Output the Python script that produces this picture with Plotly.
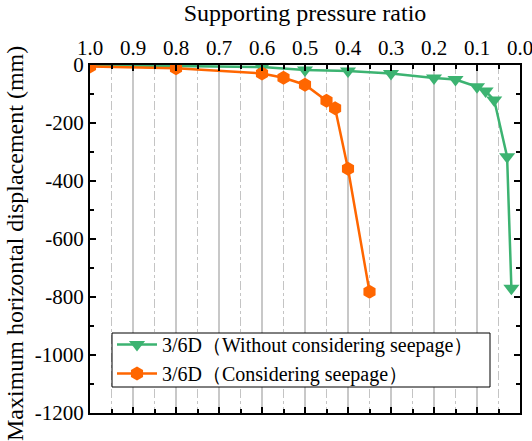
import plotly.graph_objects as go

# Supporting pressure ratio vs. maximum horizontal displacement (mm)
ratio_dry = [1.0, 0.8, 0.6, 0.5, 0.4, 0.3, 0.2, 0.15, 0.1, 0.08, 0.06, 0.03, 0.02]
disp_dry = [0, -3, -7, -17, -21, -29, -45, -50, -75, -90, -121, -316, -770]

ratio_seep = [1.0, 0.8, 0.6, 0.55, 0.5, 0.45, 0.43, 0.4, 0.35]
disp_seep = [-5, -11, -29, -44, -68, -123, -149, -358, -782]

name_dry = "3/6D（Without considering seepage）"
name_seep = "3/6D（Considering seepage）"
y_title = "Maximum horizontal displacement (mm)"

x_ticks = [round(0.1 * i, 1) for i in range(11)]
y_ticks = list(range(-1200, 1, 200))
y_labels = [str(v) for v in y_ticks]

GREEN = "#3cb371"
ORANGE = "#ff6600"
FONT = "'Times New Roman', 'Liberation Serif', 'DejaVu Serif', serif"

# plot area in pixels: x 90..520, y 65..413
W, H = 532, 441
L, R, T, B = 90, 12, 65, 28
PW, PH = W - L - R, H - T - B


def px_x(x):
    return (x - L) / PW


def px_y(y):
    return (H - B - y) / PH


fig = go.Figure()
fig.add_trace(go.Scatter(
    x=ratio_dry, y=disp_dry, name=name_dry, mode="lines+markers",
    line=dict(color=GREEN, width=2.5),
    marker=dict(symbol="triangle-down", size=14, color=GREEN),
))
fig.add_trace(go.Scatter(
    x=ratio_seep, y=disp_seep, name=name_seep, mode="lines+markers",
    line=dict(color=ORANGE, width=2.5),
    marker=dict(symbol="hexagon", size=14, color=ORANGE),
))

# legend frame drawn as a shape so the entries can sit tightly inside it
fig.add_shape(
    type="rect", xref="paper", yref="paper", layer="above",
    x0=px_x(112), x1=px_x(490), y0=px_y(387), y1=px_y(333),
    fillcolor="white", line=dict(color="black", width=1),
)

fig.add_annotation(
    text=y_title, xref="paper", yref="paper",
    x=px_x(15), y=px_y(244), xanchor="center", yanchor="middle",
    textangle=-90, showarrow=False, font=dict(family=FONT, size=24),
)

fig.update_layout(
    width=W, height=H,
    margin=dict(l=L, r=R, t=T, b=B),
    paper_bgcolor="white", plot_bgcolor="white",
    font=dict(family=FONT, size=21, color="black"),
    showlegend=True,
    legend=dict(
        x=px_x(112), y=px_y(325), xanchor="left", yanchor="top",
        bgcolor="rgba(0,0,0,0)", borderwidth=0,
        font=dict(family=FONT, size=20), tracegroupgap=0, itemwidth=40,
    ),
)

fig.update_xaxes(
    side="top", range=[1.0, 0.0], tickvals=x_ticks, tickformat=".1f",
    ticklabeloverflow="allow",
    tickfont=dict(family=FONT, size=21),
    title=dict(text="Supporting pressure ratio", font=dict(family=FONT, size=24), standoff=8),
    showline=True, linecolor="black", linewidth=2, mirror="allticks",
    ticks="inside", ticklen=6, tickwidth=2, tickcolor="black",
    showgrid=True, gridcolor="#c8c8c8", gridwidth=1.5,
    zeroline=False, automargin=False,
    minor=dict(dtick=0.05, ticks="inside", ticklen=4, tickwidth=1.5,
               tickcolor="black", showgrid=True, gridcolor="#c4c4c4",
               griddash="dashdot", gridwidth=1),
)
fig.update_yaxes(
    range=[-1200, 0], tickvals=y_ticks, ticktext=y_labels,
    tickfont=dict(family=FONT, size=21),
    showline=True, linecolor="black", linewidth=2, mirror="allticks",
    ticks="inside", ticklen=6, tickwidth=2, tickcolor="black",
    showgrid=False, zeroline=False, automargin=False,
    minor=dict(dtick=100, ticks="inside", ticklen=4, tickwidth=1.5,
               tickcolor="black", showgrid=False),
)

fig.write_html("out.html")
